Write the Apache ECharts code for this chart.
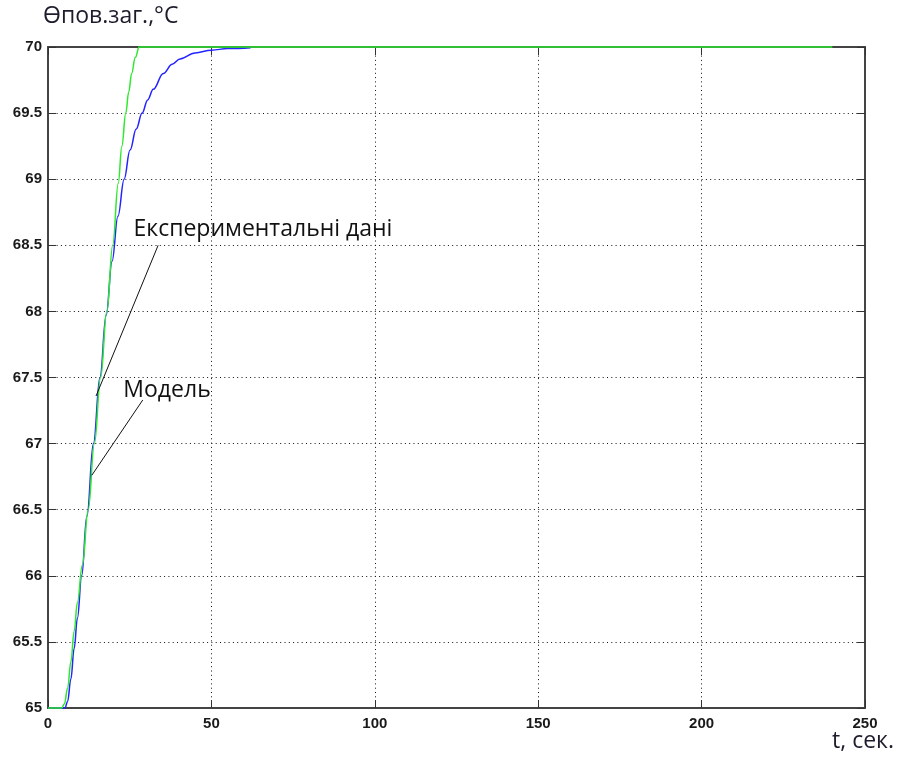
<!DOCTYPE html>
<html>
<head>
<meta charset="utf-8">
<script src="https://cdn.jsdelivr.net/npm/echarts@6/dist/echarts.min.js"></script>
<style>
  html, body { margin: 0; padding: 0; background: #fff; }
  #chart { width: 898px; height: 760px; }
</style>
</head>
<body>
<div id="chart"></div>
<script>
// Surface temperature response, °C, against time, s
const expTime = [0, 5.2, 6.0, 7.0, 8.0, 9.0, 10.3, 11.9, 13.9, 15.9, 17.8, 19.6, 21.4, 23.3, 25.1, 27.0, 28.8, 30.5, 32.2, 35.3, 38.0, 40.4, 45, 50, 55, 62];
const expTemp = [65, 65, 65.05, 65.22, 65.45, 65.68, 66.0, 66.45, 67.0, 67.5, 67.97, 68.38, 68.72, 69.0, 69.22, 69.38, 69.5, 69.6, 69.68, 69.8, 69.87, 69.91, 69.955, 69.976, 69.988, 69.995];

const modelTime = [0, 4.2, 5.0, 6.0, 7.0, 8.0, 9.0, 10.5, 12.3, 14.2, 16.1, 18.0, 19.8, 21.5, 22.6, 23.8, 24.7, 25.6, 26.7, 27.9, 240];
const modelTemp = [65, 65, 65.03, 65.15, 65.35, 65.58, 65.8, 66.08, 66.5, 67.0, 67.5, 68.0, 68.5, 68.97, 69.25, 69.5, 69.66, 69.8, 69.92, 70, 70];

// Axis ranges and ticks
const xMin = 0, xMax = 250, xStep = 50;
const yMin = 65, yMax = 70, yStep = 0.5;

// Annotation texts with their anchor (t, θ) and the leader line ends
const noteTexts  = ['Експериментальні дані', 'Модель'];
const noteAnchor = [[26.0, 68.62], [22.9, 67.40]];
const leaderFrom = [[33.7, 68.5], [29.0, 67.33]];
const leaderTo   = [[14.7, 67.36], [13.4, 66.76]];

const zip = (a, b) => a.map((v, i) => [v, b[i]]);

const textFont = '"Open Sans", "Noto Sans", sans-serif';
const tickFont = '"Liberation Sans", Arial, sans-serif';

const gridDots = { show: true, lineStyle: { color: '#111', width: 1, type: [1, 3.3] } };
const frame = { show: true, onZero: false, lineStyle: { color: '#444', width: 2 } };
const tickIn = { show: true, inside: true, length: 8, lineStyle: { color: '#333', width: 1 } };
const tickText = { color: '#1a1a1a', fontFamily: tickFont, fontSize: 15, fontWeight: 'bold' };

const chart = echarts.init(document.getElementById('chart'), null, { renderer: 'canvas' });

chart.setOption({
  backgroundColor: '#fff',
  animation: false,
  grid: { left: 48, right: 33, top: 47, bottom: 52 },
  xAxis: [
    {
      type: 'value', min: xMin, max: xMax, interval: xStep, position: 'bottom',
      axisLine: frame, axisTick: tickIn, splitLine: gridDots,
      axisLabel: Object.assign({ margin: 8 }, tickText)
    },
    {
      type: 'value', min: xMin, max: xMax, interval: xStep, position: 'top',
      axisLine: frame, axisTick: tickIn, splitLine: { show: false }, axisLabel: { show: false }
    }
  ],
  yAxis: [
    {
      type: 'value', min: yMin, max: yMax, interval: yStep, position: 'left',
      axisLine: frame, axisTick: tickIn, splitLine: gridDots,
      axisLabel: Object.assign({ margin: 6 }, tickText)
    },
    {
      type: 'value', min: yMin, max: yMax, interval: yStep, position: 'right',
      axisLine: frame, axisTick: tickIn, splitLine: { show: false }, axisLabel: { show: false }
    }
  ],
  graphic: [
    {
      type: 'text', left: 43, top: 5,
      style: { text: 'Өпов.заг.,°C', font: '23px ' + textFont, fill: '#1c1c2c' }
    },
    {
      type: 'text', right: 4, top: 730,
      style: { text: 't, сек.', font: '23px ' + textFont, fill: '#1c1c2c' }
    }
  ],
  series: [
    {
      name: 'experiment', type: 'line', data: zip(expTime, expTemp),
      showSymbol: false, clip: false, smooth: 0.4, smoothMonotone: 'x',
      lineStyle: { color: '#2424ff', width: 1.5 }, z: 3,
      markLine: {
        silent: true, symbol: 'none', animation: false,
        label: { show: false },
        lineStyle: { color: '#111', width: 1, type: 'solid' },
        data: leaderFrom.map((p, i) => [{ coord: p }, { coord: leaderTo[i] }])
      }
    },
    {
      name: 'model', type: 'line', data: zip(modelTime, modelTemp),
      showSymbol: false, clip: false, smooth: 0.4, smoothMonotone: 'x',
      lineStyle: { color: '#2ee82e', width: 1.5 }, z: 4
    },
    {
      name: 'notes', type: 'scatter', symbolSize: 1,
      itemStyle: { color: 'rgba(255,255,255,0)', opacity: 1 },
      data: noteAnchor.map((p, i) => ({ value: p, name: noteTexts[i] })),
      label: {
        show: true, position: 'right', distance: 0,
        formatter: p => p.name,
        color: '#111', fontFamily: textFont, fontSize: 23
      },
      z: 5
    }
  ]
});
</script>
</body>
</html>
